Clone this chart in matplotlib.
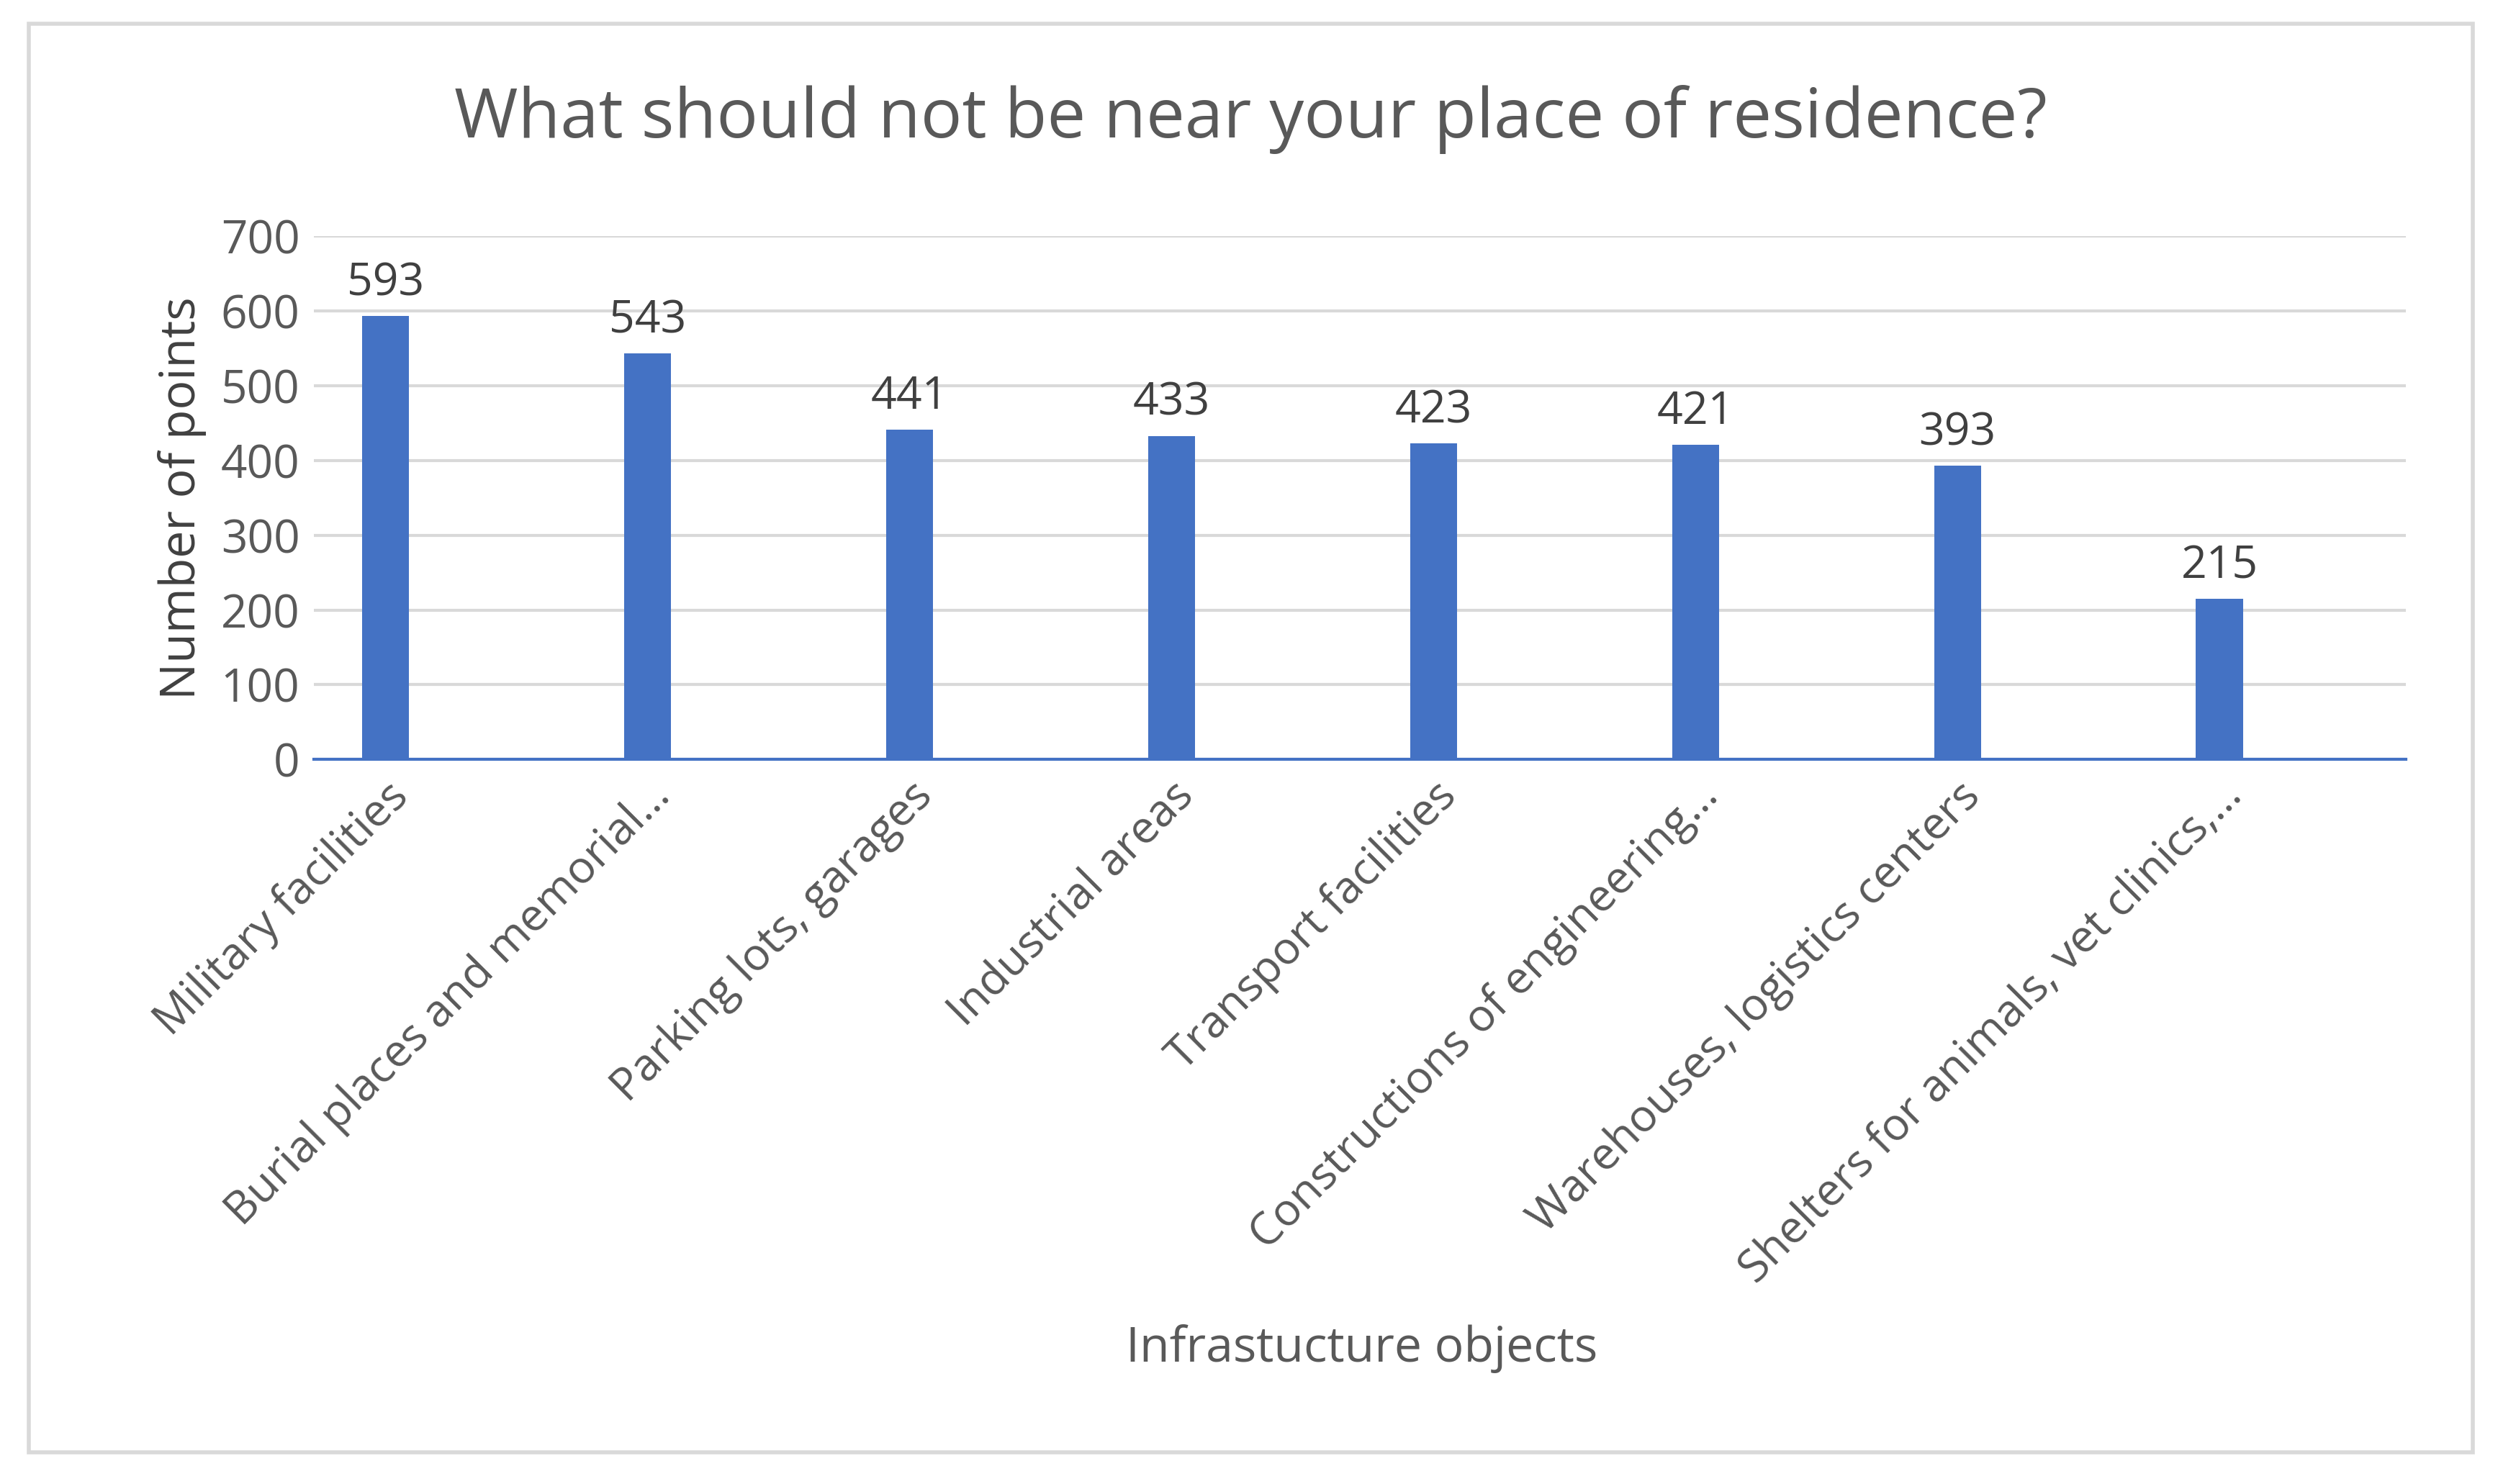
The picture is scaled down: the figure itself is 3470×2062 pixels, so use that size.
import matplotlib
matplotlib.use("Agg")
import matplotlib.pyplot as plt
from matplotlib.patches import Rectangle

categories = ["Military facilities", "Burial places and memorial…", "Parking lots, garages",
              "Industrial areas", "Transport facilities", "Constructions of engineering…",
              "Warehouses, logistics centers", "Shelters for animals, vet clinics,…"]
values = [593, 543, 441, 433, 423, 421, 393, 215]
yticks = [0, 100, 200, 300, 400, 500, 600, 700]

plt.rcParams['font.family'] = ['Open Sans', 'DejaVu Sans']
txt = '#595959'
fig = plt.figure(figsize=(34.7, 20.62), dpi=100)
W, H = 1568, 930
ax = fig.add_axes([197/W, 1-476/H, (1510-197)/W, (476-148)/H])
x = range(len(categories))
ax.bar(x, values, width=0.18, color='#4472C4', zorder=3)
for xi, v in zip(x, values):
    ax.annotate(str(v), (xi, v), xytext=(0, 10), textcoords='offset points',
                ha='center', va='bottom', fontsize=45, color='#404040')
ax.set_ylim(0, 700)
ax.set_xlim(-0.274, 7.71)
ax.set_yticks(yticks)
ax.set_yticklabels([str(t) for t in yticks], fontsize=46, color=txt)
ax.set_xticks(list(x))
ax.set_xticklabels(categories, rotation=45, ha='right', rotation_mode='anchor', fontsize=45, color=txt)
ax.tick_params(length=0, pad=14)
ax.grid(axis='y', color='#D9D9D9', linewidth=3, zorder=0)
for s in ['top', 'right', 'left']:
    ax.spines[s].set_visible(False)
ax.spines['bottom'].set_color('#4472C4')
ax.spines['bottom'].set_linewidth(3)
ax.set_ylabel("Number of points", fontsize=49, color='#404040', labelpad=14)
fig.text(855/W, 1-845/H, "Infrastucture objects", ha='center', va='center', fontsize=49, color=txt)
fig.text(785/W, 1-75/H, "What should not be near your place of residence?", ha='center', va='center',
         fontsize=69, color=txt)
fig.patches.append(Rectangle((18/W, 1-910/H), (1552-18)/W, (910-15)/H, transform=fig.transFigure,
                             fill=False, edgecolor='#D9D9D9', linewidth=4))
fig.savefig("out.png", dpi=100, facecolor='white')
